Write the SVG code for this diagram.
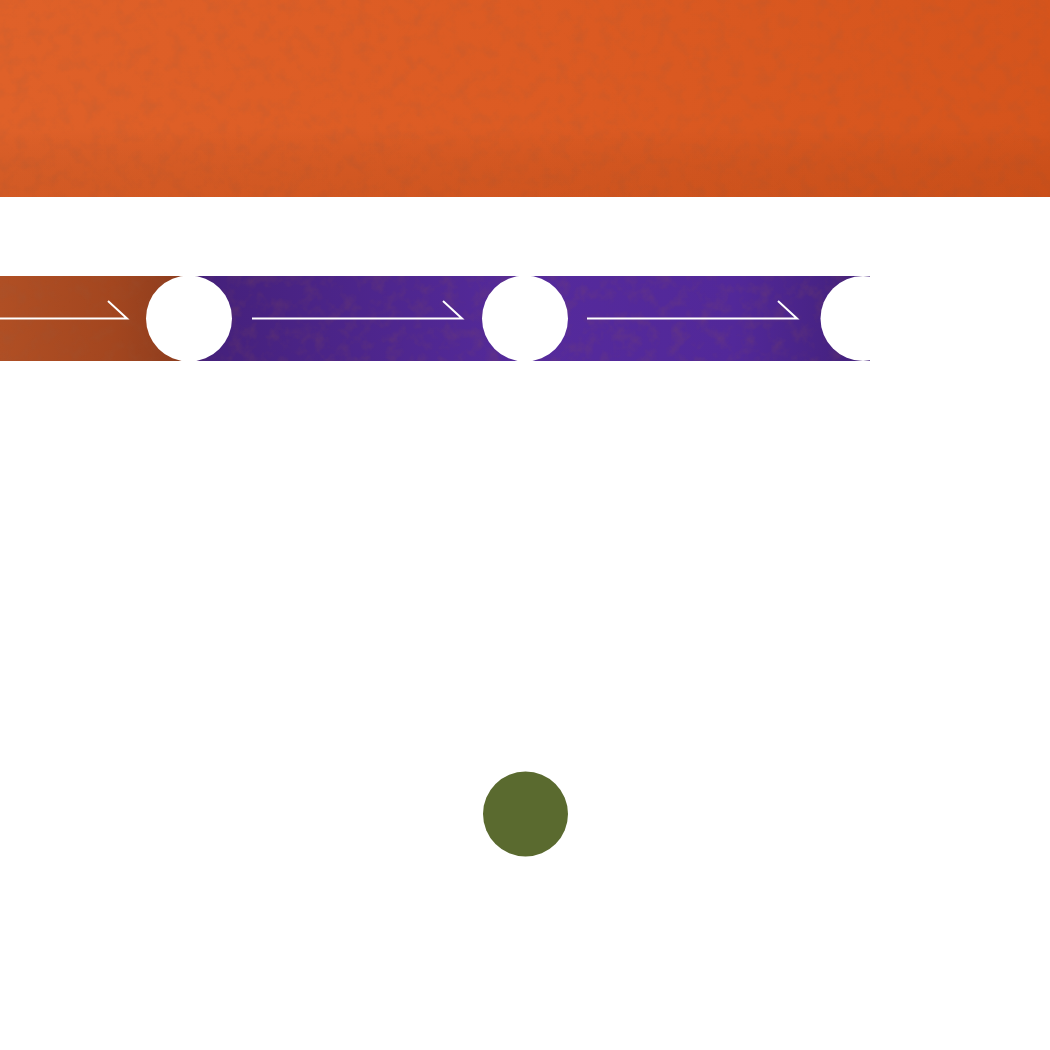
<svg xmlns="http://www.w3.org/2000/svg" width="1050" height="1050" viewBox="0 0 1050 1050">
<defs>
<linearGradient id="gOrange" x1="0" y1="0" x2="1" y2="0">
<stop offset="0" stop-color="#df6129"/>
<stop offset="0.5" stop-color="#dc5b23"/>
<stop offset="1" stop-color="#d5541c"/>
</linearGradient>
<linearGradient id="gOrangeV" x1="0" y1="0" x2="0" y2="1">
<stop offset="0.65" stop-color="#000" stop-opacity="0"/>
<stop offset="1" stop-color="#7a2a05" stop-opacity="0.12"/>
</linearGradient>
<linearGradient id="gBrown" x1="0" y1="0" x2="1" y2="0">
<stop offset="0" stop-color="#b04f24"/>
<stop offset="0.6" stop-color="#a3461f"/>
<stop offset="1" stop-color="#8a3b1d"/>
</linearGradient>
<linearGradient id="gPurple" x1="0" y1="0" x2="1" y2="0">
<stop offset="0" stop-color="#44207a"/>
<stop offset="0.5" stop-color="#552a9c"/>
<stop offset="0.8" stop-color="#522899"/>
<stop offset="1" stop-color="#42207a"/>
</linearGradient>
<filter id="tex" x="0" y="0" width="100%" height="100%">
<feTurbulence type="fractalNoise" baseFrequency="0.07" numOctaves="4" seed="5"/>
<feColorMatrix type="matrix" values="0 0 0 0 0.3  0 0 0 0 0.1  0 0 0 0 0.05  0 0 0 -1.8 1.0"/>
<feComposite in2="SourceGraphic" operator="in"/>
</filter>
<style>
.arrow{fill:none;stroke:#ffffff;stroke-width:2}
.hole{fill:#ffffff}
</style>
</defs>
<rect width="1050" height="1050" fill="#ffffff"/>
<g id="banner">
<rect x="0" y="0" width="1050" height="197" fill="url(#gOrange)"/>
<rect x="0" y="0" width="1050" height="197" fill="#000" filter="url(#tex)" opacity="0.2"/>
<rect x="0" y="0" width="1050" height="197" fill="url(#gOrangeV)"/>
</g>
<g id="band">
<rect x="0" y="276" width="190" height="85" fill="url(#gBrown)"/>
<rect x="189" y="276" width="681" height="85" fill="url(#gPurple)"/>
<rect x="0" y="276" width="870" height="85" fill="#000" filter="url(#tex)" opacity="0.22"/>
</g>
<g id="node1"><circle class="hole" cx="189" cy="318.5" r="43"/></g>
<g id="node2"><circle class="hole" cx="525" cy="318.5" r="43"/></g>
<g id="node3"><circle class="hole" cx="863" cy="318.5" r="42.5"/></g>
<g id="node4"><circle cx="525.5" cy="814" r="42.5" fill="#5a6a2f"/></g>
<g id="connectors">
<path class="arrow" d="M0 318.5 H127 L108 301"/>
<path class="arrow" d="M252 318.5 H462 L443 301"/>
<path class="arrow" d="M587 318.5 H797 L778 301"/>
</g>
</svg>
